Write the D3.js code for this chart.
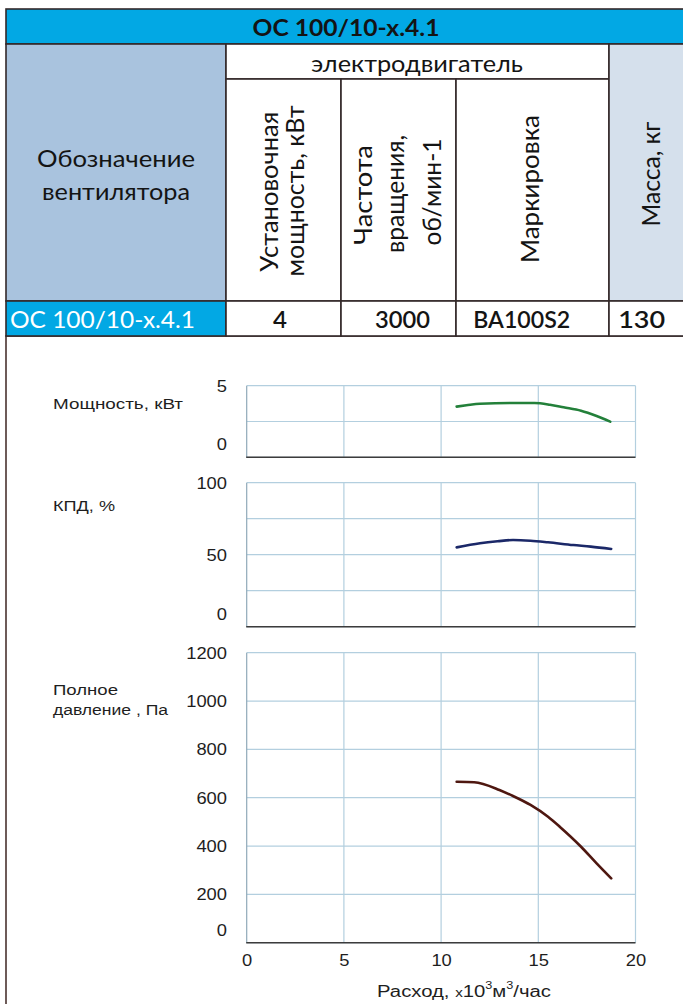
<!DOCTYPE html>
<html>
<head>
<meta charset="utf-8">
<script src="https://cdn.jsdelivr.net/npm/d3@7"></script>
<style>
  html, body { margin: 0; padding: 0; background: #fff; }
  svg { display: block; }
</style>
</head>
<body>
<svg id="sheet" width="683" height="1004"></svg>
<script>
// ---------- table content ----------
const fanName = "ОС 100/10-х.4.1";
const motorHeader = "электродвигатель";
const designationHeader = ["Обозначение", "вентилятора"];
const powerHeader = ["Установочная", "мощность, кВт"];
const speedHeader = ["Частота", "вращения,", "об/мин-1"];
const markHeader = ["Маркировка"];
const massHeader = ["Масса, кг"];
const rowValues = ["4", "3000", "ВА100S2", "130"];

// ---------- performance curves (flow in 10^3 m3/h) ----------
const powerFlow = [10.8, 11.3, 12.0, 13.7, 14.8, 15.6, 16.3, 17.2, 18.0, 18.7];
const powerKW   = [3.54, 3.63, 3.74, 3.79, 3.79, 3.67, 3.49, 3.25, 2.88, 2.49];

const effFlow = [10.8, 12.0, 12.9, 13.7, 14.6, 15.5, 16.8, 17.7, 18.75];
const effPct  = [55.1, 57.9, 59.3, 60.2, 59.7, 58.6, 56.7, 55.6, 54.0];

const pressFlow = [10.8, 11.7, 13.0, 13.7, 14.6, 15.5, 16.1, 17.2, 18.0, 18.75];
const pressPa   = [666, 664, 632, 607, 570, 521, 480, 397, 328, 266];

const flowTicks  = [0, 5, 10, 15, 20];
const powerTicks = [0, 5];
const powerGrid  = [0, 2.5, 5];
const effTicks   = [0, 50, 100];
const effGrid    = [0, 25, 50, 75, 100];
const pressTicks = [0, 200, 400, 600, 800, 1000, 1200];

const powerLabel = ["Мощность, кВт"];
const effLabel   = ["КПД, %"];
const pressLabel = ["Полное", "давление , Па"];
const flowTitle  = { main: "Расход, ", mult: "x", base: "10", unit: "м", tail: "/час", power: "3" };

// ---------- drawing ----------
const svg = d3.select("#sheet");
const TABLE_FONT = "Lato, 'Open Sans', 'Noto Sans', sans-serif";
const CHART_FONT = "'Liberation Sans', Arial, sans-serif";
const CYAN = "#02a8e4";
const BORDER = "#33292a";
const INK = "#141414";
const plain = d => String(d);

// table cells
const cells = [
  { x: 6,   y: 9,   w: 690, h: 35,  fill: CYAN },
  { x: 6,   y: 44,  w: 220, h: 257, fill: "#a9c3de" },
  { x: 226, y: 44,  w: 383, h: 35,  fill: "#fff" },
  { x: 226, y: 79,  w: 115, h: 222, fill: "#fff" },
  { x: 341, y: 79,  w: 115, h: 222, fill: "#fff" },
  { x: 456, y: 79,  w: 153, h: 222, fill: "#fff" },
  { x: 609, y: 44,  w: 87,  h: 257, fill: "#d5e0ec" },
  { x: 6,   y: 301, w: 220, h: 35,  fill: CYAN },
  { x: 226, y: 301, w: 115, h: 35,  fill: "#fff" },
  { x: 341, y: 301, w: 115, h: 35,  fill: "#fff" },
  { x: 456, y: 301, w: 153, h: 35,  fill: "#fff" },
  { x: 609, y: 301, w: 87,  h: 35,  fill: "#fff" }
];

// chart frame below the table
svg.append("rect")
  .attr("x", 6).attr("y", 336).attr("width", 700).attr("height", 700)
  .attr("fill", "#fff").attr("stroke", "#4a3330").attr("stroke-width", 1.6);

svg.append("g").selectAll("rect").data(cells).join("rect")
  .attr("x", d => d.x).attr("y", d => d.y)
  .attr("width", d => d.w).attr("height", d => d.h)
  .attr("fill", d => d.fill)
  .attr("stroke", BORDER).attr("stroke-width", 1.6);

function tableText(str, x, y, opts = {}) {
  const t = svg.append("text")
    .attr("x", x).attr("y", y)
    .attr("text-anchor", opts.anchor || "middle")
    .attr("font-family", TABLE_FONT)
    .attr("font-size", opts.size || 23)
    .attr("font-weight", opts.weight || 400)
    .attr("fill", opts.fill || INK)
    .text(str);
  if (opts.len) t.attr("textLength", opts.len).attr("lengthAdjust", "spacingAndGlyphs");
  return t;
}

function rotatedText(str, bx, cy, len, size = 25) {
  svg.append("text")
    .attr("transform", `translate(${bx},${cy}) rotate(-90)`)
    .attr("text-anchor", "middle")
    .attr("font-family", TABLE_FONT)
    .attr("font-size", size)
    .attr("fill", INK)
    .attr("textLength", len).attr("lengthAdjust", "spacingAndGlyphs")
    .text(str);
}

tableText(fanName, 346, 35.5, { size: 23, weight: 700, len: 187 });
tableText(motorHeader, 417, 71.5, { size: 24, len: 212 });
tableText(designationHeader[0], 116, 166.5, { size: 24, len: 158 });
tableText(designationHeader[1], 116, 200, { size: 24, len: 148 });

rotatedText(powerHeader[0], 278, 191.7, 160);
rotatedText(powerHeader[1], 304, 191, 171);
rotatedText(speedHeader[0], 372, 195, 100);
rotatedText(speedHeader[1], 404, 194, 118);
rotatedText(speedHeader[2], 441, 192, 107);
rotatedText(markHeader[0], 539, 189, 148);
rotatedText(massHeader[0], 660, 174, 105);

tableText(fanName, 10, 327.5, { anchor: "start", size: 23, fill: "#fff", len: 185 });
const rowCenters = [280, 402.5, 521.7, 641.7];
const rowLens = [14, 55, 97, 47];
rowValues.forEach((v, i) =>
  tableText(v, rowCenters[i], 327.5, { size: 23, weight: 600, len: rowLens[i] }));

// ---------- charts ----------
const x = d3.scaleLinear().domain([0, 20]).range([246.7, 635.5]);

const panels = [
  { top: 385.7, bottom: 457.3, domain: [0, 5], ticks: powerTicks, grid: powerGrid,
    flow: powerFlow, vals: powerKW, color: "#23803a", label: powerLabel,
    labelPos: [[53, 409, 130]] },
  { top: 482.7, bottom: 626.7, domain: [0, 100], ticks: effTicks, grid: effGrid,
    flow: effFlow, vals: effPct, color: "#1b2868", label: effLabel,
    labelPos: [[53, 511, 62]] },
  { top: 652.7, bottom: 942.7, domain: [0, 1200], ticks: pressTicks, grid: pressTicks,
    flow: pressFlow, vals: pressPa, color: "#4e1710", label: pressLabel,
    labelPos: [[53, 695, 65], [53, 715, 115]], xAxis: true }
];

const GRID = "#b3cfdf";

panels.forEach(p => {
  const y = d3.scaleLinear().domain(p.domain).range([p.bottom, p.top]);
  const g = svg.append("g");

  // horizontal grid
  g.selectAll(".hg").data(p.grid).join("line")
    .attr("x1", x(0)).attr("x2", x(20))
    .attr("y1", d => y(d)).attr("y2", d => y(d))
    .attr("stroke", GRID).attr("stroke-width", 1.2);

  // vertical grid
  g.selectAll(".vg").data(flowTicks).join("line")
    .attr("x1", d => x(d)).attr("x2", d => x(d))
    .attr("y1", p.top).attr("y2", p.bottom)
    .attr("stroke", d => d === 0 ? "#8fa9b9" : GRID).attr("stroke-width", 1.2);

  // bottom axis line
  g.append("line")
    .attr("x1", x(0) - 0.5).attr("x2", x(20))
    .attr("y1", p.bottom).attr("y2", p.bottom)
    .attr("stroke", "#3c3c3c").attr("stroke-width", 1.6);

  // y axis labels
  const ya = g.append("g")
    .attr("transform", `translate(${x(0)},0)`)
    .call(d3.axisLeft(y).tickValues(p.ticks).tickFormat(plain).tickSize(0).tickPadding(19.7));
  ya.select(".domain").remove();
  ya.selectAll("text")
    .attr("font-family", CHART_FONT).attr("font-size", 16).attr("fill", "#1e1e1e")
    .attr("textLength", d => plain(d).length * 10.2)
    .attr("lengthAdjust", "spacingAndGlyphs")
    .attr("dy", d => d === 0 ? "-0.48em" : "0.34em");

  // x axis labels
  if (p.xAxis) {
    const xa = g.append("g")
      .attr("transform", `translate(0,${p.bottom})`)
      .call(d3.axisBottom(x).tickValues(flowTicks).tickFormat(plain).tickSize(0).tickPadding(12.4));
    xa.select(".domain").remove();
    xa.selectAll("text")
      .attr("font-family", CHART_FONT).attr("font-size", 16).attr("fill", "#1e1e1e")
      .attr("textLength", d => plain(d).length * 10.2)
      .attr("lengthAdjust", "spacingAndGlyphs");
  }

  // curve
  const pts = p.flow.map((f, i) => [f, p.vals[i]]);
  g.append("path")
    .datum(pts)
    .attr("fill", "none")
    .attr("stroke", p.color)
    .attr("stroke-width", 2.6)
    .attr("stroke-linecap", "round")
    .attr("d", d3.line().x(d => x(d[0])).y(d => y(d[1])).curve(d3.curveMonotoneX));

  // side label
  p.label.forEach((txt, i) => {
    const [lx, ly, len] = p.labelPos[i];
    g.append("text")
      .attr("x", lx).attr("y", ly)
      .attr("font-family", CHART_FONT).attr("font-size", 15.5).attr("fill", "#1e1e1e")
      .attr("textLength", len).attr("lengthAdjust", "spacingAndGlyphs")
      .text(txt);
  });
});

// flow axis title with superscripts
const xt = svg.append("text")
  .attr("x", 377).attr("y", 996.5)
  .attr("font-family", CHART_FONT).attr("font-size", 16).attr("fill", "#1e1e1e");
xt.append("tspan").text(flowTitle.main);
xt.append("tspan").attr("font-size", 12).text(flowTitle.mult);
xt.append("tspan").text(flowTitle.base);
xt.append("tspan").attr("font-size", 10).attr("dy", -8).text(flowTitle.power);
xt.append("tspan").attr("dy", 8).text(flowTitle.unit);
xt.append("tspan").attr("font-size", 10).attr("dy", -8).text(flowTitle.power);
xt.append("tspan").attr("dy", 8).text(flowTitle.tail);
xt.attr("textLength", 174).attr("lengthAdjust", "spacingAndGlyphs");
</script>
</body>
</html>
